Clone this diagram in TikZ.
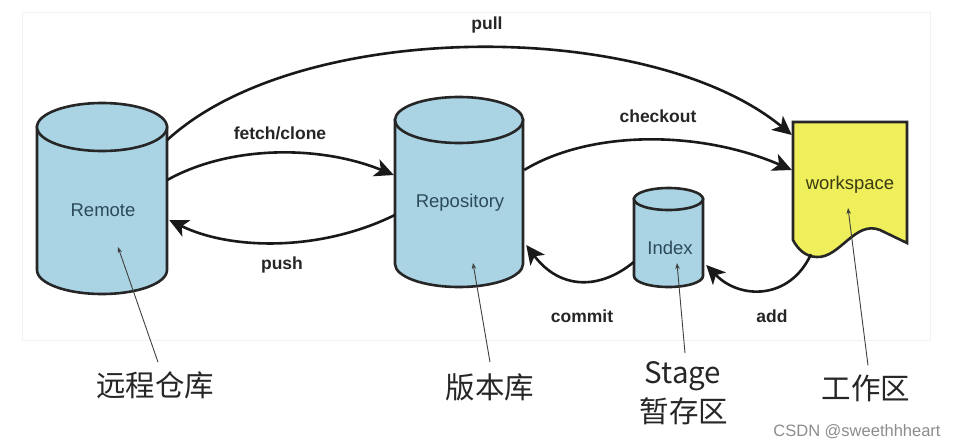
\documentclass[tikz,border=0pt]{standalone}
\usepackage{fontspec}
\setmainfont{Liberation Sans}
\newfontfamily\cjk{Noto Sans CJK SC}
\usetikzlibrary{arrows.meta,calc}
\definecolor{cylfill}{HTML}{AAD4E3}
\definecolor{wsfill}{HTML}{EFEF5C}
\definecolor{intext}{HTML}{2C4B5A}
\definecolor{wstext}{HTML}{3A3A14}
\definecolor{frame}{HTML}{F2F2F2}
\newcommand\drawcyl[5]{%
  \filldraw[cylshape] ({#1-#4},#2) -- ({#1-#4},#3) arc[start angle=180,end angle=0,x radius=#4,y radius=#5] -- ({#1+#4},#2) -- cycle;
  \filldraw[cylshape] (#1,#2) ellipse[x radius=#4,y radius=#5];
}
\begin{document}
\begin{tikzpicture}[x=1pt,y=-1pt,
  cylshape/.style={fill=cylfill,draw=black!85,line width=2.6pt},
  shapebox/.style={draw=none,inner sep=0pt},
  flow/.style={draw=black!90,line width=2.6pt,-{Stealth[length=19pt,width=18pt,inset=5pt]}},
  pointer/.style={draw=black!75,line width=0.9pt,-{Stealth[length=6pt,width=4.5pt]}},
  flowlabel/.style={font=\fontsize{17.5}{17.5}\selectfont\bfseries,text=black!85},
  inlabel/.style={font=\fontsize{18.5}{18.5}\selectfont,text=intext},
  cnlabel/.style={font=\cjk\fontsize{29.5}{30}\selectfont,text=black!85,inner sep=0pt},
]
\useasboundingbox (0,0) rectangle (959,447);
\fill[white] (0,0) rectangle (959,447);
\draw[frame,line width=1pt] (22,12) rectangle (930,340);

% shapes
\drawcyl{102}{127}{270}{65}{24}
\drawcyl{459}{120}{264}{64}{23}
\drawcyl{668.5}{199}{276}{34.5}{11}
\filldraw[fill=wsfill,draw=black!85,line width=2.6pt]
  (793,122) -- (907,122) -- (907,243) -- (880,230)
  .. controls (855,220) and (840,258) .. (817,257)
  .. controls (805,257) and (797,248) .. (793,240) -- cycle;

% named boxes
\node[shapebox,minimum width=130pt,minimum height=190pt] (remote) at (102,198) {};
\node[shapebox,minimum width=128pt,minimum height=190pt] (repo) at (459,192) {};
\node[shapebox,minimum width=69pt,minimum height=99pt] (index) at (668.5,237.5) {};
\node[shapebox,minimum width=114pt,minimum height=136pt] (ws) at (850,190) {};

% inner texts
\node[inlabel] (tremote) at (103,210) {Remote};
\node[inlabel] (trepo) at (460,203) {Repository};
\node[inlabel] (tindex) at (670,248) {Index};
\node[inlabel,text=wstext] (tws) at (850,185) {workspace};

% flows
\draw[flow] ([yshift=58pt]remote.east) .. controls (300,18) and (650,18) .. ([xshift=-1pt,yshift=55pt]ws.west);
\draw[flow] ([yshift=18pt]remote.east) .. controls (230,145) and (320,145) .. ([xshift=-1pt,yshift=17pt]repo.west);
\draw[flow] ([yshift=-23pt]repo.west) .. controls (320,252) and (230,250) .. ([xshift=2pt,yshift=-22pt]remote.east);
\draw[flow] ([xshift=1pt,yshift=22pt]repo.east) .. controls (590,130) and (700,130) .. ([xshift=-1pt,yshift=20pt]ws.west);
\draw[flow] ([yshift=-24.5pt]index.west) .. controls (600,290) and (560,290) .. ([xshift=3pt,yshift=-53pt]repo.east);
\draw[flow] ([xshift=-39pt,yshift=4pt]ws.south) .. controls (790,300) and (740,300) .. ([xshift=3pt,yshift=-27.5pt]index.east);

% flow labels
\node[flowlabel] (lpull) at (487,25) {pull};
\node[flowlabel] (lfetch) at (280,133) {fetch/clone};
\node[flowlabel] (lpush) at (282,265) {push};
\node[flowlabel] (lcheckout) at (658,116) {checkout};
\node[flowlabel] (lcommit) at (582,316) {commit};
\node[flowlabel] (ladd) at (772,316) {add};

% chinese labels
\node[cnlabel] (cremote) at (155,385) {远程仓库};
\node[cnlabel] (crepo) at (490,387) {版本库};
\node[cnlabel] (cstage) at (683,376) {Stage};
\node[cnlabel] (cstage2) at (684,411) {暂存区};
\node[cnlabel] (cws) at (866,388) {工作区};

% pointers
\draw[pointer] ([xshift=3pt,yshift=9pt]cremote.north) -- ([xshift=16pt,yshift=-49pt]remote.center);
\draw[pointer] ([xshift=0pt,yshift=11pt]crepo.north) -- ([xshift=14pt,yshift=-71pt]repo.center);
\draw[pointer] ([xshift=2pt,yshift=8pt]cstage.north) -- ([xshift=8.5pt,yshift=-25.5pt]index.center);
\draw[pointer] ([xshift=2pt,yshift=9pt]cws.north) -- ([xshift=-2pt,yshift=-18pt]ws.center);

% watermark
\node[font=\fontsize{16.5}{16.5}\selectfont,text=black!45] (wm) at (857,432) {CSDN @sweethhheart};
\end{tikzpicture}
\end{document}
